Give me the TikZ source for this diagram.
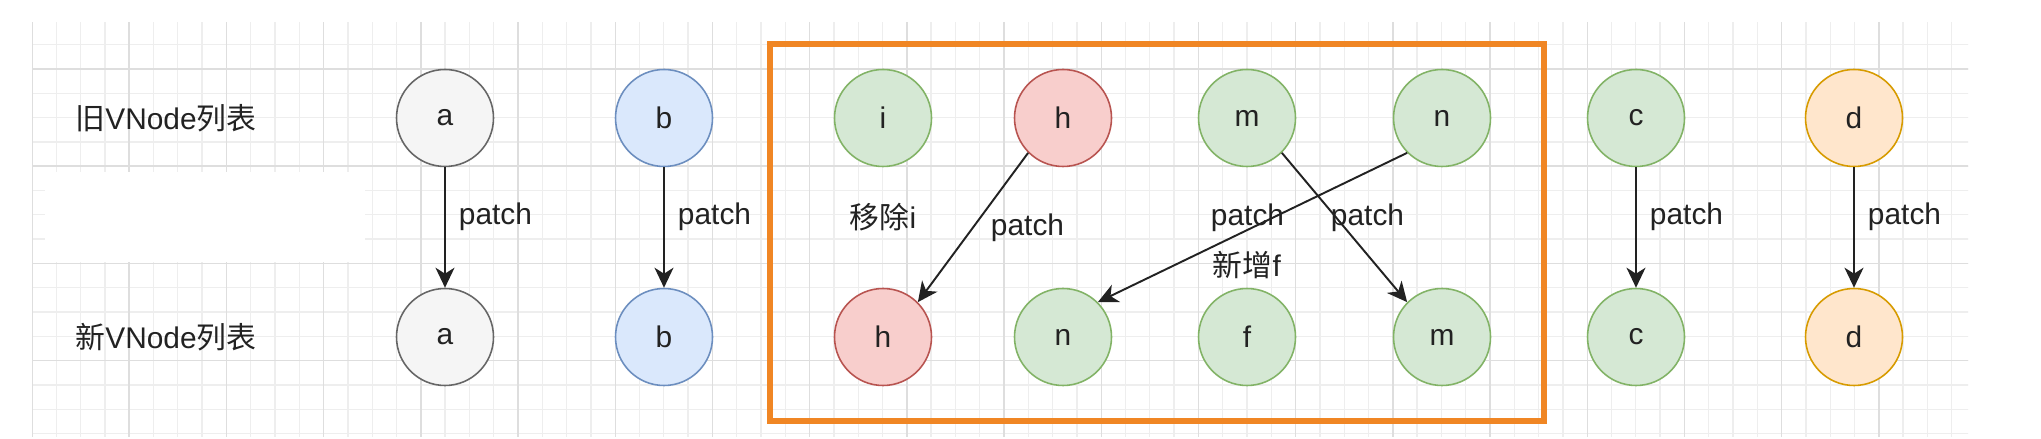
\documentclass[tikz,border=0pt]{standalone}
\usepackage{fontspec}
\setmainfont{Liberation Sans}
\newfontfamily\cjk{Noto Sans CJK SC}
\usetikzlibrary{positioning,arrows.meta}
\definecolor{grayfill}{HTML}{F5F5F5}
\definecolor{graystroke}{HTML}{666666}
\definecolor{bluefill}{HTML}{DAE8FC}
\definecolor{bluestroke}{HTML}{6C8EBF}
\definecolor{greenfill}{HTML}{D5E8D4}
\definecolor{greenstroke}{HTML}{82B366}
\definecolor{redfill}{HTML}{F8CECC}
\definecolor{redstroke}{HTML}{B85450}
\definecolor{orangefill}{HTML}{FFE6CC}
\definecolor{orangestroke}{HTML}{D79B00}
\definecolor{framecol}{RGB}{240,134,36}
\definecolor{gridlight}{RGB}{238,238,238}
\definecolor{griddark}{RGB}{222,222,222}
\definecolor{inkcol}{HTML}{222222}
\tikzset{
    vnode/.style = {
        draw,
        shape=circle,
        minimum size=0.97cm,
        inner sep=0pt,
        line width=0.45pt,
        text=inkcol,
        font=\fontsize{8.5}{10}\selectfont
    },
    grayv/.style = {vnode, fill=grayfill, draw=graystroke},
    bluev/.style = {vnode, fill=bluefill, draw=bluestroke},
    greenv/.style = {vnode, fill=greenfill, draw=greenstroke},
    redv/.style = {vnode, fill=redfill, draw=redstroke},
    orangev/.style = {vnode, fill=orangefill, draw=orangestroke},
    rowlabel/.style = {
        inner sep=0pt,
        text=inkcol,
        font=\fontsize{8.5}{10}\selectfont
    },
    patchlabel/.style = {
        inner sep=0pt,
        text=inkcol,
        font=\fontsize{8.5}{10}\selectfont
    },
    patchedge/.style = {
        draw=inkcol,
        line width=0.55pt
    },
    frame/.style = {
        draw=framecol,
        line width=1.7pt
    },
    gridminor/.style = {draw=gridlight, line width=0.35pt},
    gridmajor/.style = {draw=griddark, line width=0.4pt},
    >={Stealth[length=0.2cm,width=0.19cm,inset=0.06cm]},
}

\begin{document}
\begin{tikzpicture}
            \useasboundingbox[fill=white] (0,0) rectangle (20.41,4.39);

            % background grid
            \begin{scope}
                \clip (0.32,0.02) rectangle (19.68,4.16);
                \draw[gridminor, shift={(0.32,3.70)}] (-1,-5) grid[step=0.243] (20,1);
                \draw[gridmajor, shift={(0.32,3.70)}] (-1,-5) grid[step=0.972] (20,1);
            \end{scope}
            \fill[white] (0.45,1.77) rectangle (3.65,2.67);

            \draw[frame] (7.70,0.18) rectangle (15.44,3.95);

            \node[rowlabel] (oldlist) at (1.66,3.21) {{\cjk 旧}VNode{\cjk 列表}};
            \node[rowlabel] (newlist) at (1.66,1.02) {{\cjk 新}VNode{\cjk 列表}};

            \node[grayv] (a1) at (4.45,3.21) {a};
            \node[bluev] (b1) at (6.64,3.21) {b};
            \node[greenv] (i1) at (8.83,3.21) {i};
            \node[redv] (h1) at (10.63,3.21) {h};
            \node[greenv] (m1) at (12.47,3.21) {m};
            \node[greenv] (n1) at (14.42,3.21) {n};
            \node[greenv] (c1) at (16.36,3.21) {c};
            \node[orangev] (d1) at (18.54,3.21) {d};

            \node[grayv] (a2) at (4.45,1.02) {a};
            \node[bluev] (b2) at (6.64,1.02) {b};
            \node[redv] (h2) at (8.83,1.02) {h};
            \node[greenv] (n2) at (10.63,1.02) {n};
            \node[greenv] (f2) at (12.47,1.02) {f};
            \node[greenv] (m2) at (14.42,1.02) {m};
            \node[greenv] (c2) at (16.36,1.02) {c};
            \node[orangev] (d2) at (18.54,1.02) {d};

            \node[rowlabel] (removei) at (8.83,2.22) {{\cjk 移除}i};
            \node[rowlabel] (addf) at (12.47,1.74) {{\cjk 新增}f};

            \path[patchedge, ->] (a1) -- (a2) node [patchlabel, pos=0.41, right=0.13] {patch};
            \path[patchedge, ->] (b1) -- (b2) node [patchlabel, pos=0.41, right=0.13] {patch};
            \path[patchedge, ->] (c1) -- (c2) node [patchlabel, pos=0.41, right=0.13] {patch};
            \path[patchedge, ->] (d1) -- (d2) node [patchlabel, pos=0.41, right=0.13] {patch};

            \path[patchedge, ->] (h1.south west) -- (h2.north east) node [patchlabel, midway, right=0.17] {patch};
            \path[patchedge, ->] (n1.south west) -- (n2.north east) node [patchlabel, midway, shift={(-0.05,0.1)}] {patch};
            \path[patchedge, ->] (m1.south east) -- (m2.north west) node [patchlabel, midway, shift={(0.23,0.1)}] {patch};

        \end{tikzpicture}
\end{document}
